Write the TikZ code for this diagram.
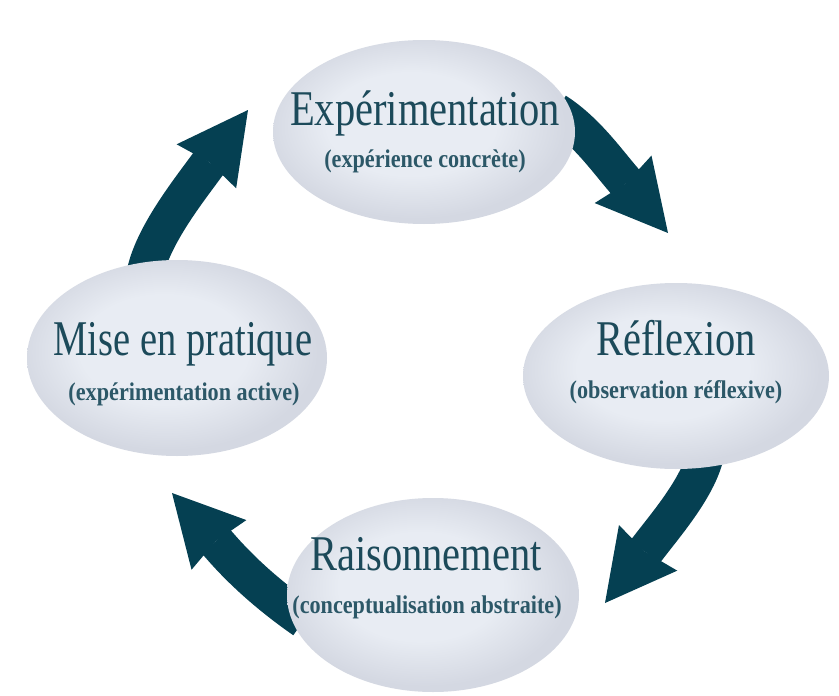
\documentclass[tikz,border=0pt]{standalone}
\usepackage{fontspec}
\setmainfont{Liberation Serif}
\newfontfamily\titlefont[FakeStretch=0.81]{Liberation Serif}
\newfontfamily\subfont[FakeStretch=0.87]{Liberation Serif Bold}
\usetikzlibrary{shapes.geometric,arrows.meta,calc}
\definecolor{arrowcol}{RGB}{5,64,82}
\definecolor{textcol}{RGB}{28,74,90}
\definecolor{subcol}{RGB}{44,88,104}
\definecolor{ellin}{RGB}{232,236,243}
\definecolor{ellout}{RGB}{212,216,226}
\pgfdeclareradialshading{ellshade}{\pgfpoint{-3bp}{3bp}}{%
  color(0bp)=(ellin); color(14bp)=(ellin); color(25bp)=(ellout); color(50bp)=(ellout)}
\pgfdeclarelayer{bg}
\pgfsetlayers{bg,main}
\begin{document}
\begin{tikzpicture}[x=1pt,y=-1pt,
  cyc/.style={ellipse, inner sep=0pt, shading=ellshade},
  ttl/.style={anchor=base, inner sep=0pt, text=textcol, font=\titlefont\fontsize{50}{50}\selectfont},
  sub/.style={anchor=base, inner sep=0pt, text=subcol, font=\subfont\fontsize{25.5}{26}\selectfont},
  cycarrow/.style={draw=arrowcol, line width=37pt,
    -{Stealth[length=70pt,width=74pt,inset=5pt,line width=0pt]}}]
\useasboundingbox (0,0) rectangle (839,696);
% ellipses
\node[cyc, minimum width=302pt, minimum height=184pt] (e1) at (424,132) {};
\node[cyc, minimum width=306pt, minimum height=186pt] (e2) at (676,376) {};
\node[cyc, minimum width=292pt, minimum height=194pt] (e3) at (433,595) {};
\node[cyc, minimum width=300pt, minimum height=196pt] (e4) at (177,358) {};
% texts
\node[ttl] (t1) at (425,125) {Expérimentation};
\node[sub] (s1) at (425,167) {(expérience concrète)};
\node[ttl] (t2) at (676,355) {Réflexion};
\node[sub] (s2) at (676,398) {(observation réflexive)};
\node[ttl] (t3) at (426,570) {Raisonnement};
\node[sub] (s3) at (427,613) {(conceptualisation abstraite)};
\node[ttl, xscale=0.95] (t4) at (183,355) {Mise en pratique};
\node[sub] (s4) at (184,400) {(expérimentation active)};
% arrow heads: base points and tips
\coordinate (b1) at (622,178); \coordinate (h1) at (668,233);
\coordinate (b2) at (648,548); \coordinate (h2) at (605,603);
\coordinate (b3) at (219.5,545.5); \coordinate (h3) at (172,493);
\coordinate (b4) at (205.5,167.5); \coordinate (h4) at (248,110);
\begin{pgfonlayer}{bg}
\fill[white] (0,0) rectangle (839,696);
\draw[cycarrow] ($(e1.center)!0.9!(e1.9)$) .. controls (585,130) and (605,158) .. (b1) -- (h1);
\draw[cycarrow] ($(e2.center)!0.83!(e2.-68)$) .. controls (700,485) and (668,522) .. (b2) -- (h2);
\draw[cycarrow] ($(e3.center)!0.92!(e3.191)$) .. controls (275,600) and (245,575) .. (b3) -- (h3);
\draw[cycarrow] ($(e4.center)!0.85!(e4.112)$) .. controls (150,240) and (186,194) .. (b4) -- (h4);
\end{pgfonlayer}
\end{tikzpicture}
\end{document}
